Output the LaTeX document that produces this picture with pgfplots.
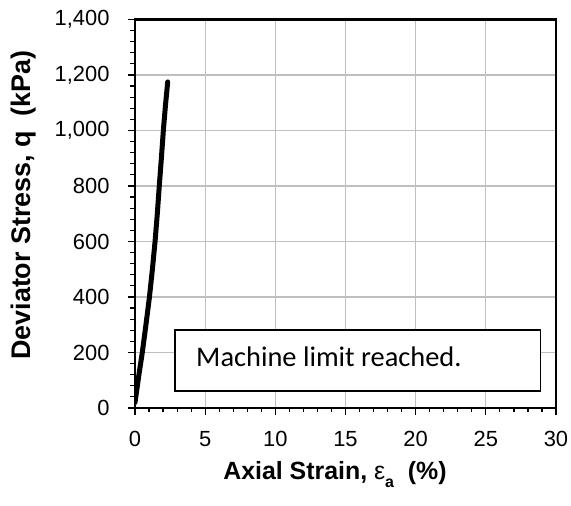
\documentclass[border=0pt]{standalone}
\usepackage{fontspec}
\setmainfont{Liberation Sans}
\newfontfamily\calibri{Carlito}
\usepackage{pgfplots}
\pgfplotsset{compat=1.18}

\begin{document}
\begin{tikzpicture}
\path[use as bounding box] (0,0) rectangle (571bp,506bp);
\begin{axis}[
  at={(135bp,98bp)}, anchor=south west,
  width=421bp, height=388.5bp, scale only axis,
  xmin=0, xmax=30, ymin=0, ymax=1400,
  xtick={0,5,...,30}, ytick={0,200,...,1400},
  minor x tick num=4, minor y tick num=4,
  tick align=outside, tick pos=left,
  major tick length=7bp, minor tick length=4.5bp,
  every tick/.style={black, line width=1.2bp},
  grid=major, major grid style={black!25, line width=1.2bp},
  axis line style={black, line width=2.2bp},
  ticklabel style={font=\fontsize{22}{26}\selectfont},
  xticklabel style={yshift=-12.5bp},
  yticklabel style={xshift=-15bp},
  /pgf/number format/assume math mode=true,
  /pgf/number format/1000 sep={,},
  xlabel={Axial Strain, {\mdseries ε}\raisebox{-0.3em}{\fontsize{16}{16}\selectfont\bfseries a}\ \ (\%)},
  xlabel style={at={(axis description cs:0.475,-0.1853)}, anchor=base,
                font=\fontsize{25}{30}\selectfont\bfseries, inner sep=0pt},
  ylabel={Deviator Stress, q\ \ (kPa)},
  ylabel style={at={(axis description cs:-0.2494,0.5225)}, anchor=base,
                font=\fontsize{27}{32}\selectfont\bfseries, inner sep=0pt},
]
% measured stress-strain curve up to the load cell limit
\addplot[black, line width=5bp, line cap=round, line join=round] coordinates {
  (0.00, 20) (0.10, 55) (0.25, 110) (0.52, 200) (0.78, 300) (1.03, 400)
  (1.24, 500) (1.43, 600) (1.59, 700) (1.73, 800) (1.88, 900)
  (2.02, 1000) (2.17, 1090) (2.33, 1175)
};
% note box
\draw[black, line width=1.8bp, fill=white] (axis cs:2.85,61) rectangle (axis cs:28.9,280);
\node[anchor=base west, inner sep=0pt, font=\calibri\fontsize{28.5}{34}\selectfont]
  at (axis cs:4.35,148) {Machine limit reached.};
\end{axis}
\end{tikzpicture}
\end{document}
